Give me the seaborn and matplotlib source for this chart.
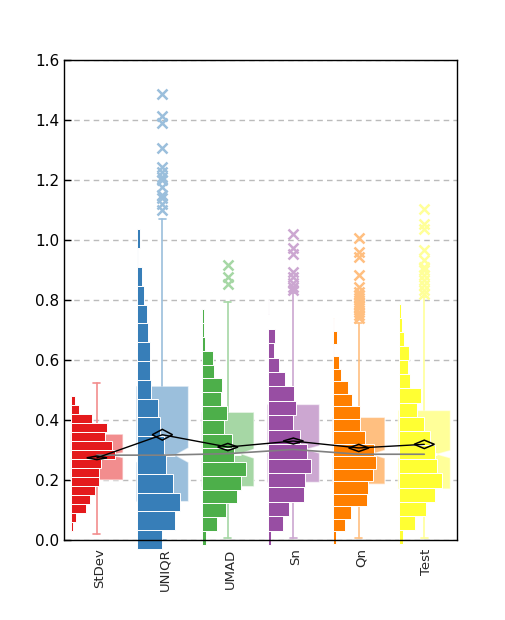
import matplotlib
matplotlib.use("Agg")
import matplotlib.pyplot as plt
import numpy as np
import seaborn as sns

methods = ["StDev", "UNIQR", "UMAD", "Sn", "Qn", "Test"]

# histogram bins: lower edge of the first bin, bin width, counts bottom -> top
hist_start = [0.031, -0.030, -0.017, -0.017, -0.012, -0.014]
hist_binw = [0.030, 0.0627, 0.0463, 0.0481, 0.0417, 0.0472]
counts_stdev = [2, 5, 15, 19, 24, 28, 28, 30, 43, 40, 33, 35, 21, 8, 4]
counts_uniqr = [25, 38, 43, 36, 29, 27, 23, 21, 14, 13, 13, 11, 10, 7, 5, 1, 3]
counts_umad = [4, 15, 24, 35, 39, 43, 32, 30, 22, 25, 19, 20, 12, 11, 3, 2, 2]
counts_sn = [3, 16, 22, 37, 38, 44, 40, 33, 26, 29, 27, 18, 11, 6, 7, 0, 1]
counts_qn = [3, 12, 18, 34, 35, 40, 43, 41, 32, 27, 27, 19, 15, 8, 6, 1, 4, 1]
counts_test = [4, 16, 27, 36, 43, 38, 36, 31, 25, 18, 22, 11, 9, 10, 5, 3, 2]
hist_counts = [counts_stdev, counts_uniqr, counts_umad, counts_sn, counts_qn, counts_test]

# box plot statistics
q1 = [0.200, 0.128, 0.178, 0.192, 0.186, 0.170]
medians = [0.283, 0.283, 0.288, 0.302, 0.286, 0.286]
q3 = [0.353, 0.513, 0.426, 0.452, 0.409, 0.432]
whis_lo = [0.019, 0.000, 0.006, 0.006, 0.006, 0.008]
whis_hi = [0.524, 1.072, 0.795, 0.822, 0.722, 0.810]
notch_half = [0.008, 0.024, 0.015, 0.012, 0.013, 0.012]
means = [0.274, 0.351, 0.310, 0.330, 0.307, 0.319]
mean_ci = [0.006, 0.018, 0.012, 0.010, 0.012, 0.014]

out_stdev = []
out_uniqr = [1.486, 1.413, 1.391, 1.306, 1.244, 1.228, 1.211, 1.200, 1.178,
             1.150, 1.139, 1.122, 1.100]
out_umad = [0.918, 0.877, 0.853]
out_sn = [1.019, 0.974, 0.952, 0.892, 0.878, 0.856, 0.845, 0.833]
out_qn = [1.006, 0.959, 0.944, 0.883, 0.845, 0.828, 0.817, 0.806, 0.794,
          0.783, 0.772, 0.761, 0.750, 0.739]
out_test = [1.103, 1.052, 1.036, 0.967, 0.933, 0.911, 0.900, 0.883, 0.867,
            0.850, 0.833, 0.819]
outliers = [out_stdev, out_uniqr, out_umad, out_sn, out_qn, out_test]

yticks = [0.0, 0.2, 0.4, 0.6, 0.8, 1.0, 1.2, 1.4, 1.6]

sns.set_theme(style="ticks")
plt.rcParams["font.family"] = ["DejaVu Sans"]
palette = sns.color_palette("Set1", len(methods))
light = [tuple(0.5 * np.array(c) + 0.5) for c in palette]

fig = plt.figure(figsize=(5.05, 6.2), dpi=100)
ax = fig.add_axes([0.127, 0.129, 0.778, 0.774])
pos = np.arange(len(methods))
box_w = 0.8
hist_max = 0.66

for i, name in enumerate(methods):
    # notched box drawn beneath the histogram
    stats = [dict(q1=q1[i], med=medians[i], q3=q3[i], whislo=whis_lo[i],
                  whishi=whis_hi[i], cilo=medians[i] - notch_half[i],
                  cihi=medians[i] + notch_half[i], fliers=outliers[i])]
    ax.bxp(stats, positions=[pos[i]], widths=box_w, capwidths=0.11,
           shownotches=True, patch_artist=True, zorder=1, manage_ticks=False,
           boxprops=dict(facecolor=light[i], edgecolor=(1, 1, 1, 0.6), lw=1),
           whiskerprops=dict(color=light[i], lw=1.2),
           capprops=dict(color=light[i], lw=1.2),
           medianprops=dict(color="white", lw=2),
           flierprops=dict(marker="x", markersize=7, markeredgewidth=1.8,
                           markeredgecolor=light[i], linestyle="none"))

    # histogram growing to the right from the left edge of the slot
    cnt = np.array(hist_counts[i], dtype=float)
    bottoms = hist_start[i] + hist_binw[i] * np.arange(len(cnt))
    ax.barh(bottoms, cnt / max(hist_counts[i]) * hist_max, height=hist_binw[i],
            left=pos[i] - 0.39, align="edge", color=palette[i],
            edgecolor="white", linewidth=0.7, zorder=2, clip_on=False)

# medians and means joined across methods
ax.plot(pos, medians, color="gray", lw=1.2, zorder=3)
ax.plot(pos, means, color="black", lw=1, zorder=4)
dw = 0.155
for i in range(len(methods)):
    ax.fill([pos[i] - dw, pos[i], pos[i] + dw, pos[i]],
            [means[i], means[i] + mean_ci[i], means[i], means[i] - mean_ci[i]],
            facecolor="none", edgecolor="black", lw=1.1, zorder=5)

ax.set_xlim(-0.5, 5.5)
ax.set_ylim(0, 1.6)
ax.set_yticks(yticks)
ax.set_yticklabels([f"{t:.1f}" for t in yticks], fontsize=11)
ax.set_xticks(pos + 0.04)
ax.set_xticklabels(methods, rotation=90, fontsize=9.5)
ax.tick_params(axis="y", direction="in", length=5, width=1, colors="black")
ax.tick_params(axis="x", length=0, pad=6)
ax.yaxis.grid(True, linestyle=(0, (4, 3)), color="#bbbbbb", lw=1)
ax.set_axisbelow(True)
for s in ax.spines.values():
    s.set_color("black")
    s.set_linewidth(1)

plt.savefig("out.png", dpi=100)
plt.close()
